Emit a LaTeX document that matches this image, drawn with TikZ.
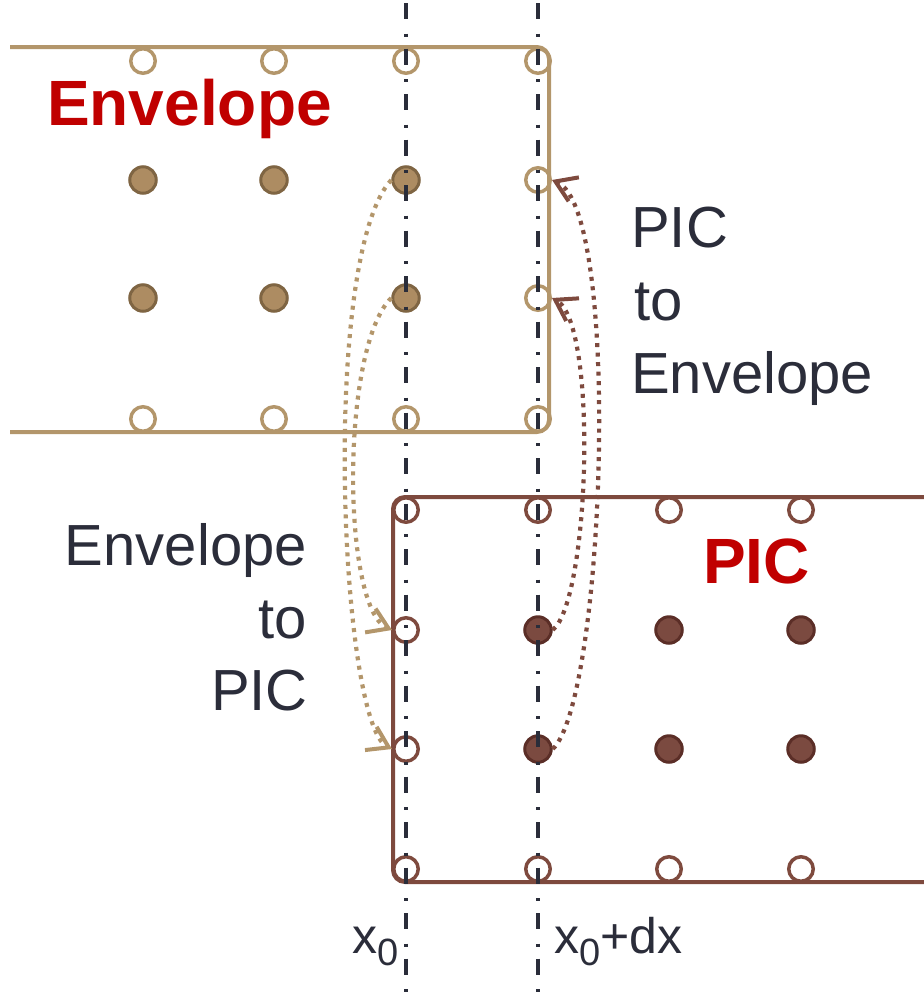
\documentclass[tikz,border=0pt]{standalone}
\usepackage{fontspec}
\setmainfont{Liberation Sans}
\usetikzlibrary{arrows.meta}
\definecolor{envc}{HTML}{B3966B}
\definecolor{envfill}{HTML}{AD8C62}
\definecolor{envdark}{HTML}{7F6543}
\definecolor{picc}{HTML}{7E4A3E}
\definecolor{picfill}{HTML}{7B4A40}
\definecolor{picdark}{HTML}{5B2E27}
\definecolor{txt}{HTML}{2B2D3A}
\definecolor{redt}{HTML}{C00000}
\definecolor{axisc}{HTML}{2A2D3A}
\begin{document}
\begin{tikzpicture}[x=1pt,y=-1pt,
  envbox/.style={draw=envc,line width=4pt,rounded corners=12pt},
  picbox/.style={draw=picc,line width=4pt,rounded corners=12pt},
  envopen/.style={circle,inner sep=0pt,minimum size=24.5pt,line width=3.5pt,draw=envc},
  envfull/.style={circle,inner sep=0pt,minimum size=26.5pt,line width=3pt,draw=envdark,fill=envfill},
  picopen/.style={circle,inner sep=0pt,minimum size=24.5pt,line width=3.5pt,draw=picc},
  picfull/.style={circle,inner sep=0pt,minimum size=26.5pt,line width=3pt,draw=picdark,fill=picfill},
  axisline/.style={draw=axisc,line width=3.5pt,dash pattern=on 16pt off 14.5pt on 3pt off 12pt,dash phase=42.5pt},
  tanarrow/.style={draw=envc,line width=4.2pt,dash pattern=on 4pt off 5.5pt,
    -{Straight Barb[length=20pt,width=26pt,line width=4pt]}},
  redarrow/.style={draw=picc,line width=4.2pt,dash pattern=on 4pt off 5.5pt,
    -{Straight Barb[length=20pt,width=26pt,line width=4pt]}},
  lbl/.style={text=txt,inner sep=0pt,font=\fontsize{58}{58}\selectfont},
  title/.style={text=redt,inner sep=0pt,font=\fontsize{64}{64}\selectfont\bfseries},
  axl/.style={text=txt,inner sep=0pt,font=\fontsize{50}{50}\selectfont}
]
\useasboundingbox (0,0) rectangle (924,994);

% boxes
\draw[envbox] (10,47) -- (549,47) -- (549,432) -- (10,432);
\draw[picbox] (930,497) -- (393,497) -- (393,882) -- (930,882);

% envelope grid
\foreach \c/\x in {1/143,2/274,3/406,4/538}{
  \node[envopen] (e1\c) at (\x,61) {};
  \node[envopen] (e4\c) at (\x,419) {};
}
\foreach \c/\x in {1/143,2/274,3/406}{
  \node[envfull] (e2\c) at (\x,180) {};
  \node[envfull] (e3\c) at (\x,298) {};
}
\node[envopen] (e24) at (538,180) {};
\node[envopen] (e34) at (538,298) {};

% PIC grid
\foreach \c/\x in {1/406,2/538,3/669,4/801}{
  \node[picopen] (p1\c) at (\x,510) {};
  \node[picopen] (p4\c) at (\x,869) {};
}
\node[picopen] (p21) at (406,630) {};
\node[picopen] (p31) at (406,749) {};
\foreach \c/\x in {2/538,3/669,4/801}{
  \node[picfull] (p2\c) at (\x,630) {};
  \node[picfull] (p3\c) at (\x,749) {};
}

% axis lines
\coordinate (a0t) at (406,0);
\coordinate (a0b) at (406,994);
\coordinate (a1t) at (538,0);
\coordinate (a1b) at (538,994);
\draw[axisline] (a0t) -- (a0b);
\draw[axisline] (a1t) -- (a1b);

% exchange arrows
\draw[tanarrow] (e23.west) .. controls +(-71,77) and +(-52,-26) .. (p31.west);
\draw[tanarrow] (e33.west) .. controls +(-51,50) and +(-50,-22) .. (p21.west);
\draw[redarrow] (p32.east) .. controls +(52,-49) and +(70,30) .. (e24.east);
\draw[redarrow] (p22.east) .. controls +(37,-30) and +(46,26) .. (e34.east);

% titles
\node[title,anchor=base west] (tenv) at (47,125) {Envelope};
\node[title,anchor=base west] (tpic) at (703,583) {PIC};

% labels
\node[lbl,anchor=base west] (la1) at (631,247) {PIC};
\node[lbl,anchor=base west] (la2) at (634,320) {to};
\node[lbl,anchor=base west] (la3) at (631,393) {Envelope};
\node[lbl,anchor=base east] (lb1) at (307,565) {Envelope};
\node[lbl,anchor=base east] (lb2) at (307,638) {to};
\node[lbl,anchor=base east] (lb3) at (308,710) {PIC};

\node[axl,anchor=base west] (x0) at (352,953) {x\raisebox{-12pt}{\fontsize{38}{38}\selectfont 0}};
\node[axl,anchor=base west] (x1) at (554,953) {x\raisebox{-12pt}{\fontsize{38}{38}\selectfont 0}+dx};
\end{tikzpicture}
\end{document}
